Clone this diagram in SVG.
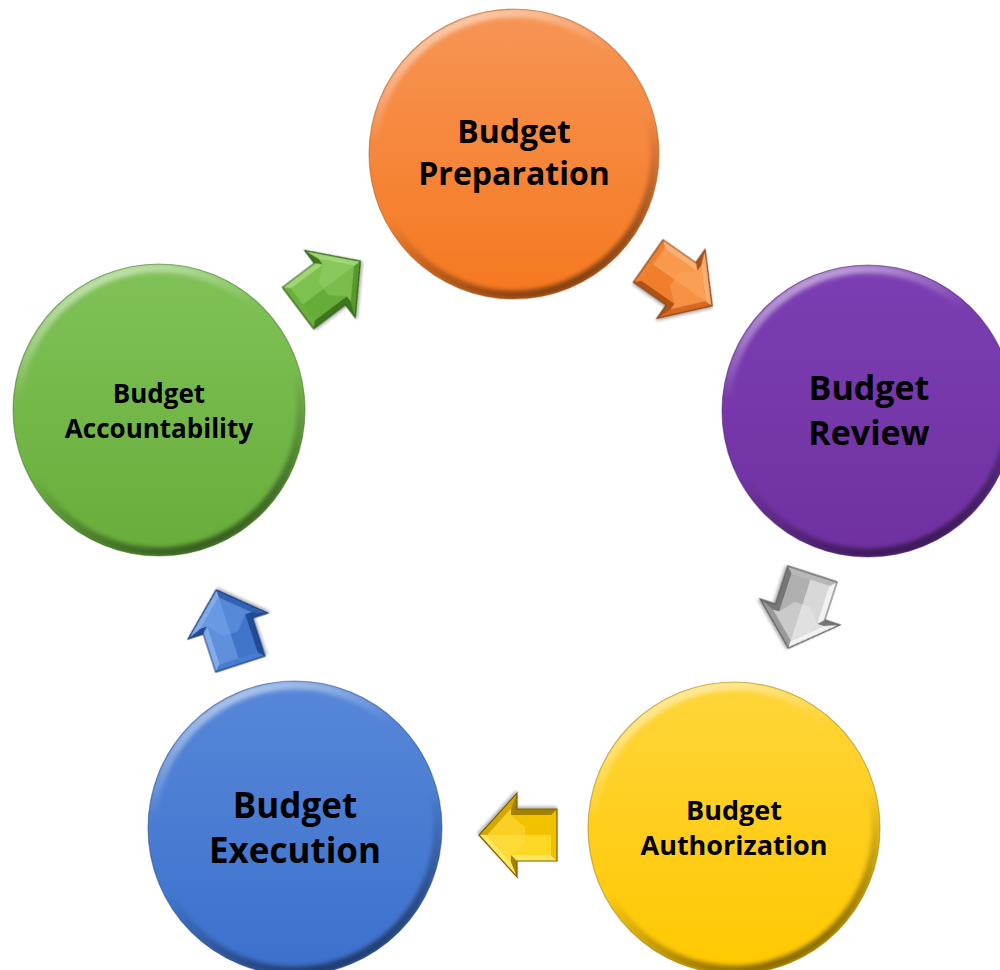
<svg xmlns="http://www.w3.org/2000/svg" width="1000" height="970" viewBox="0 0 1000 970">
  <defs>
    <style>
      .label { font-family: "Open Sans", "Noto Sans", "Liberation Sans", sans-serif; font-weight: 700; fill: #000; text-anchor: middle; }
      .edge { fill: none; stroke-opacity: 0.45; stroke-width: 1.2; }
      /* arrow facets take their colours from custom properties set on each arrow instance */
      .a-out { fill: var(--out); }
      .a-lt { fill: var(--lt); }
      .a-md { fill: var(--md); }
      .a-dk { fill: var(--dk); }
      .a-dk2 { fill: var(--dk2); }
      .a-top { fill: var(--top); }
      .a-bot { fill: var(--bot); }
      .a-face { fill: var(--face); opacity: 0.45; }
      .a-edge { fill: none; stroke: var(--edge); stroke-width: 1.2; }
      .green { --out:#4A8A26; --lt:#9FD672; --md:#6AB03C; --dk:#3C761C; --dk2:#56992C; --top:#7FC150; --bot:#66AC38; --face:#96D068; --edge:#2F5E16; }
      .orange { --out:#BC5A18; --lt:#FDB073; --md:#F08030; --dk:#AC5216; --dk2:#D46A22; --top:#F8994E; --bot:#F07E2C; --face:#FCA864; --edge:#8A3E10; }
      .gray { --out:#858585; --lt:#F2F2F2; --md:#B8B8B8; --dk:#767676; --dk2:#999999; --top:#D8D8D8; --bot:#B0B0B0; --face:#ECECEC; --edge:#575757; }
      .yellow { --out:#BC9400; --lt:#FFE860; --md:#EEC000; --dk:#A48000; --dk2:#D4A800; --top:#FFD828; --bot:#F2C200; --face:#FFE04A; --edge:#7A6000; }
      .blue { --out:#2A58A2; --lt:#82ABEC; --md:#467BD0; --dk:#214C96; --dk2:#3262B2; --top:#6090DC; --bot:#4174CA; --face:#78A4EA; --edge:#1A3A78; }
    </style>

    <!-- body gradients for the stage discs -->
    <linearGradient id="gOrange" x1="0" y1="0" x2="0" y2="1">
      <stop offset="0" stop-color="#F79556"/>
      <stop offset="1" stop-color="#F5781F"/>
    </linearGradient>
    <linearGradient id="gPurple" x1="0" y1="0" x2="0" y2="1">
      <stop offset="0" stop-color="#7B3FB3"/>
      <stop offset="1" stop-color="#7030A0"/>
    </linearGradient>
    <linearGradient id="gYellow" x1="0" y1="0" x2="0" y2="1">
      <stop offset="0" stop-color="#FFD53A"/>
      <stop offset="1" stop-color="#FFC800"/>
    </linearGradient>
    <linearGradient id="gBlue" x1="0" y1="0" x2="0" y2="1">
      <stop offset="0" stop-color="#5787D8"/>
      <stop offset="1" stop-color="#3C70CC"/>
    </linearGradient>
    <linearGradient id="gGreen" x1="0" y1="0" x2="0" y2="1">
      <stop offset="0" stop-color="#80C257"/>
      <stop offset="1" stop-color="#68AD3B"/>
    </linearGradient>

    <!-- bevelled rim: light along the top edge, shade along the bottom -->
    <linearGradient id="rim" x1="0.3" y1="0" x2="0.7" y2="1">
      <stop offset="0" stop-color="#fff" stop-opacity="0.55"/>
      <stop offset="0.3" stop-color="#fff" stop-opacity="0"/>
      <stop offset="0.55" stop-color="#000" stop-opacity="0"/>
      <stop offset="1" stop-color="#000" stop-opacity="0.5"/>
    </linearGradient>
    <filter id="soft" x="-10%" y="-10%" width="120%" height="120%">
      <feGaussianBlur stdDeviation="2.2"/>
    </filter>
    <clipPath id="disc" clipPathUnits="objectBoundingBox">
      <circle cx="0.5" cy="0.5" r="0.5"/>
    </clipPath>
    <filter id="ashadow" x="-30%" y="-30%" width="160%" height="160%">
      <feGaussianBlur in="SourceAlpha" stdDeviation="1.5"/>
      <feOffset dx="1" dy="2" result="b"/>
      <feComponentTransfer><feFuncA type="linear" slope="0.3"/></feComponentTransfer>
      <feMerge><feMergeNode/><feMergeNode in="SourceGraphic"/></feMerge>
    </filter>

    <!-- bevelled block arrow pointing along +x, centred on the origin -->
    <g id="arrowShape">
      <polygon class="a-out" points="38,0 0,-42 0,-26 -40,-26 -40,26 0,26 0,42"/>
      <polygon class="a-lt" points="38,0 0,-42 6,-26.5 30,0"/>
      <polygon class="a-dk" points="0,-42 0,-26 6,-20 6,-26.5"/>
      <polygon class="a-lt" points="0,-26 -40,-26 -34,-20 6,-20"/>
      <polygon class="a-md" points="-40,-26 -40,26 -34,20 -34,-20"/>
      <polygon class="a-dk" points="-40,26 0,26 6,20 -34,20"/>
      <polygon class="a-dk" points="0,26 0,42 6,26.5 6,20"/>
      <polygon class="a-dk2" points="0,42 38,0 30,0 6,26.5"/>
      <polygon class="a-top" points="30,0 6,-26.5 6,-20 -34,-20 -34,0"/>
      <polygon class="a-bot" points="30,0 -34,0 -34,20 6,20 6,26.5"/>
      <polygon class="a-face" points="30,0 6,-26.5 6,-20 -8,-8 -8,8 6,20 6,26.5"/>
      <polygon class="a-edge" points="38,0 0,-42 0,-26 -40,-26 -40,26 0,26 0,42"/>
    </g>
  </defs>

  <rect width="1000" height="970" fill="#fff"/>

  <!-- connectors: bevelled arrows between the stages -->
  <g id="connectors">
    <use href="#arrowShape" class="green" filter="url(#ashadow)" transform="translate(330,284) rotate(-37)"/>
    <use href="#arrowShape" class="orange" filter="url(#ashadow)" transform="translate(681,284) rotate(35)"/>
    <use href="#arrowShape" class="gray" filter="url(#ashadow)" transform="translate(800,612) rotate(108)"/>
    <use href="#arrowShape" class="yellow" filter="url(#ashadow)" transform="translate(517,835) rotate(180)"/>
    <use href="#arrowShape" class="blue" filter="url(#ashadow)" transform="translate(228,626) rotate(-108)"/>
  </g>

  <!-- stage discs -->
  <g id="node-preparation">
    <circle cx="514" cy="154" r="145" fill="url(#gOrange)"/>
    <g clip-path="url(#disc)">
      <circle cx="514" cy="154" r="145" fill="none"/>
      <circle cx="514" cy="154" r="141" fill="none" stroke="url(#rim)" stroke-width="9" filter="url(#soft)"/>
    </g>
    <circle class="edge" cx="514" cy="154" r="145" stroke="#9A4A12"/>
    <text class="label" x="514" y="143" font-size="32">Budget</text>
    <text class="label" x="514" y="185" font-size="32">Preparation</text>
  </g>

  <g id="node-review">
    <circle cx="868" cy="411" r="146" fill="url(#gPurple)"/>
    <g clip-path="url(#disc)">
      <circle cx="868" cy="411" r="146" fill="none"/>
      <circle cx="868" cy="411" r="142" fill="none" stroke="url(#rim)" stroke-width="9" filter="url(#soft)"/>
    </g>
    <circle class="edge" cx="868" cy="411" r="146" stroke="#3E1466"/>
    <text class="label" x="869" y="400" font-size="34">Budget</text>
    <text class="label" x="869" y="445" font-size="34">Review</text>
  </g>

  <g id="node-authorization">
    <circle cx="734" cy="828" r="146" fill="url(#gYellow)"/>
    <g clip-path="url(#disc)">
      <circle cx="734" cy="828" r="146" fill="none"/>
      <circle cx="734" cy="828" r="142" fill="none" stroke="url(#rim)" stroke-width="9" filter="url(#soft)"/>
    </g>
    <circle class="edge" cx="734" cy="828" r="146" stroke="#8A6C00"/>
    <text class="label" x="734" y="820" font-size="27">Budget</text>
    <text class="label" x="734" y="855" font-size="27">Authorization</text>
  </g>

  <g id="node-execution">
    <circle cx="295" cy="828" r="147" fill="url(#gBlue)"/>
    <g clip-path="url(#disc)">
      <circle cx="295" cy="828" r="147" fill="none"/>
      <circle cx="295" cy="828" r="143" fill="none" stroke="url(#rim)" stroke-width="9" filter="url(#soft)"/>
    </g>
    <circle class="edge" cx="295" cy="828" r="147" stroke="#1A3A78"/>
    <text class="label" x="295" y="818" font-size="35">Budget</text>
    <text class="label" x="295" y="863" font-size="35">Execution</text>
  </g>

  <g id="node-accountability">
    <circle cx="159" cy="410" r="146" fill="url(#gGreen)"/>
    <g clip-path="url(#disc)">
      <circle cx="159" cy="410" r="146" fill="none"/>
      <circle cx="159" cy="410" r="142" fill="none" stroke="url(#rim)" stroke-width="9" filter="url(#soft)"/>
    </g>
    <circle class="edge" cx="159" cy="410" r="146" stroke="#2F5E16"/>
    <text class="label" x="159" y="403" font-size="26">Budget</text>
    <text class="label" x="159" y="438" font-size="26">Accountability</text>
  </g>
</svg>
